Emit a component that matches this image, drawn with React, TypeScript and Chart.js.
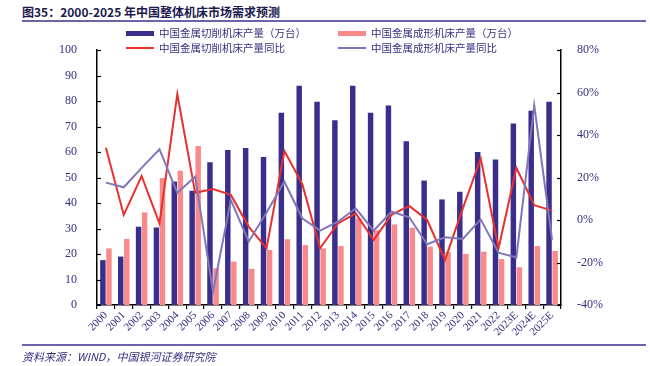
import React, { useEffect, useRef } from "react";
import { Chart, registerables } from "chart.js";

Chart.register(...registerables);

const categories = ["2000","2001","2002","2003","2004","2005","2006","2007","2008","2009","2010","2011","2012","2013","2014","2015","2016","2017","2018","2019","2020","2021","2022","2023E","2024E","2025E"];
const cuttingOutput = [17.6,19,30.7,30.4,48.4,44.8,56,60.8,61.6,58,75.4,86,79.7,72.5,86,75.4,78.2,64.2,48.8,41.4,44.4,60,57.1,71.2,76.2,79.7];
const formingOutput = [22.2,25.9,36.3,49.8,52.6,62.4,14.4,17,14.2,21.6,25.8,23.5,22.2,23.1,34,29.3,31.6,30.3,22.9,20.8,20,20.9,18,14.8,23.1,21.2];
const cuttingYoY = [34,2.4,20.7,-1.6,59.3,12.8,14.6,11.8,-3.1,-13.3,32.5,17,-13.3,-1.6,3.1,-9.4,2.4,6.6,0,-18.8,5.5,29,-13.3,24.6,7,4.4];
const formingYoY = [17.6,15.4,24.5,33.3,12.8,20.4,-33.7,9.4,-10.2,3.5,18,0.8,-5,-0.8,5.5,-5,3.9,1.3,-11.4,-8.1,-8.9,0.3,-15.4,-17.6,54,-9.4];
const leftTicks = [0,10,20,30,40,50,60,70,80,90,100];
const rightTicks = [-40,-20,0,20,40,60,80];

const NAVY = "#3a2e8c";
const SALMON = "#f98a8a";
const RED = "#e8302e";
const PURPLE = "#7f77b8";
const TEXT = "#33307f";

const innerTicks = {
  id: "innerTicks",
  afterDraw(chart: any) {
    const ctx = chart.ctx;
    const ca = chart.chartArea;
    ctx.save();
    ctx.strokeStyle = "#000";
    ctx.lineWidth = 1.2;
    const y = chart.scales.y;
    leftTicks.forEach((v) => {
      const py = Math.round(y.getPixelForValue(v)) + 0.5;
      ctx.beginPath();
      ctx.moveTo(ca.left, py);
      ctx.lineTo(ca.left + 4, py);
      ctx.stroke();
    });
    const y1 = chart.scales.y1;
    rightTicks.forEach((v) => {
      const py = Math.round(y1.getPixelForValue(v)) + 0.5;
      ctx.beginPath();
      ctx.moveTo(ca.right, py);
      ctx.lineTo(ca.right - 4, py);
      ctx.stroke();
    });
    ctx.restore();
  },
};

export default function App() {
  const ref = useRef<HTMLCanvasElement>(null);
  useEffect(() => {
    document.body.style.margin = "0";
    const chart = new Chart(ref.current!, {
      type: "bar",
      data: {
        labels: categories,
        datasets: [
          { type: "line", label: "中国金属成形机床产量同比", data: formingYoY, yAxisID: "y1", borderColor: PURPLE, borderWidth: 2, pointRadius: 0, tension: 0, fill: false } as any,
          { type: "line", label: "中国金属切削机床产量同比", data: cuttingYoY, yAxisID: "y1", borderColor: RED, borderWidth: 2, pointRadius: 0, tension: 0, fill: false } as any,
          { type: "bar", label: "中国金属切削机床产量（万台）", data: cuttingOutput, yAxisID: "y", backgroundColor: NAVY, categoryPercentage: 0.68, barPercentage: 0.9 },
          { type: "bar", label: "中国金属成形机床产量（万台）", data: formingOutput, yAxisID: "y", backgroundColor: SALMON, categoryPercentage: 0.68, barPercentage: 0.9 },
        ],
      },
      options: {
        animation: false,
        responsive: false,
        layout: { padding: { top: 50, bottom: 0, left: 0, right: 0 } },
        plugins: { legend: { display: false }, tooltip: { enabled: false } },
        scales: {
          x: {
            offset: true,
            grid: { display: true, drawOnChartArea: false, offset: true, tickLength: 4, color: "#000", lineWidth: 1.2 },
            border: { display: true, color: "#000", width: 1.5 },
            ticks: { color: TEXT, font: { family: "'Liberation Serif', 'DejaVu Serif', serif", size: 11 }, minRotation: 45, maxRotation: 45, autoSkip: false, padding: 0 },
            afterFit: (s: any) => { s.height = 61; },
          },
          y: {
            position: "left",
            min: 0,
            max: 100,
            afterBuildTicks: (s: any) => { s.ticks = leftTicks.map((v) => ({ value: v })); },
            grid: { display: false },
            border: { display: true, color: "#000", width: 1.5 },
            ticks: { color: TEXT, font: { family: "'Liberation Serif', 'DejaVu Serif', serif", size: 12 }, padding: 12 },
            afterFit: (s: any) => { s.width = 97; },
          },
          y1: {
            position: "right",
            min: -40,
            max: 80,
            afterBuildTicks: (s: any) => { s.ticks = rightTicks.map((v) => ({ value: v })); },
            grid: { display: false },
            border: { display: true, color: "#000", width: 1.5 },
            ticks: { color: TEXT, font: { family: "'Liberation Serif', 'DejaVu Serif', serif", size: 12 }, padding: 8, callback: (v: any) => v + "%" },
            afterFit: (s: any) => { s.width = 89; },
          },
        },
      },
      plugins: [innerTicks],
    });
    return () => chart.destroy();
  }, []);

  const cjk = "'Noto Sans CJK SC', 'Noto Sans', sans-serif";
  const legendItem = (left: number, top: number, color: string, isBar: boolean, text: string) => (
    <div style={{ position: "absolute", left, top, display: "flex", alignItems: "center", height: 14 }}>
      <div style={{ width: 28, height: isBar ? 5 : 2, background: color, marginRight: 5 }} />
      <span style={{ fontFamily: cjk, fontSize: 10.5, color: TEXT, whiteSpace: "nowrap", lineHeight: "14px" }}>{text}</span>
    </div>
  );

  return (
    <div style={{ position: "relative", width: 650, height: 366, background: "#fff", overflow: "hidden" }}>
      <div style={{ position: "absolute", left: 22, top: 3, fontFamily: cjk, fontWeight: 700, fontSize: 12, color: "#1c1a4e", whiteSpace: "nowrap", lineHeight: "17px" }}>
        图35：2000-2025 年中国整体机床市场需求预测
      </div>
      <div style={{ position: "absolute", left: 22, top: 20, width: 624, height: 1.5, background: "#6a64a8" }} />
      <canvas ref={ref} width={650} height={366} style={{ position: "absolute", left: 0, top: 0 }} />
      {legendItem(126, 26, NAVY, true, "中国金属切削机床产量（万台）")}
      {legendItem(338, 26, SALMON, true, "中国金属成形机床产量（万台）")}
      {legendItem(126, 41, RED, false, "中国金属切削机床产量同比")}
      {legendItem(338, 41, PURPLE, false, "中国金属成形机床产量同比")}
      <div style={{ position: "absolute", left: 22, top: 344, width: 624, height: 1.5, background: "#6a64a8" }} />
      <div style={{ position: "absolute", left: 22, top: 348, fontFamily: cjk, fontStyle: "italic", fontSize: 11, color: TEXT, whiteSpace: "nowrap", lineHeight: "16px" }}>
        资料来源：WIND，中国银河证券研究院
      </div>
    </div>
  );
}
